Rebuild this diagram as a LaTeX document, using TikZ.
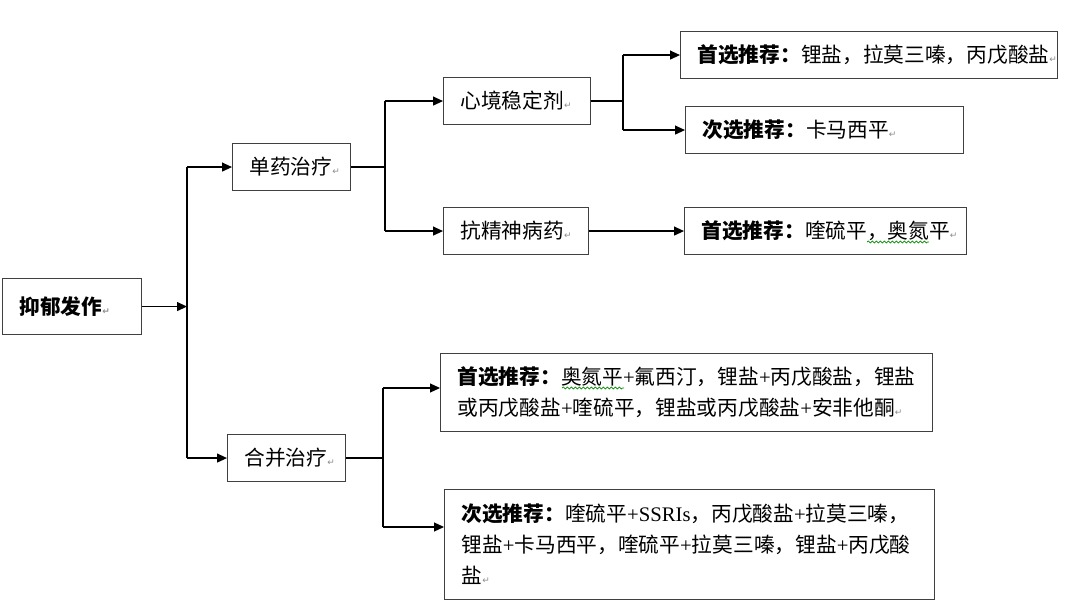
\documentclass[tikz,border=0pt]{standalone}
\usepackage{fontspec}
\setmainfont{Liberation Serif}
\newfontfamily\cjk{Noto Sans CJK SC}
\newfontfamily\dvs{DejaVu Sans}
\usetikzlibrary{arrows.meta,decorations.pathmorphing}
\newcommand{\rt}{{\dvs\fontsize{9}{9}\selectfont\color{black!45}↵}}
\newcommand{\p}{{\rmfamily +}}
\newcommand{\lat}[1]{{\rmfamily #1}}
\tikzset{
  box/.style={draw=black!75, line width=1.1pt, rectangle, anchor=north west,
    inner xsep=17pt, inner ysep=0pt, align=left,
    font=\cjk\fontsize{20.7}{31}\selectfont},
  arr/.style={-{Triangle[length=10pt,width=9pt]}, line width=1.2pt},
  ln/.style={line width=1.2pt},
  wavy/.style={draw=green!55!black, line width=0.7pt, decorate,
    decoration={snake, amplitude=1pt, segment length=4pt}}
}
\begin{document}
\begin{tikzpicture}[x=1pt,y=-1pt]
\useasboundingbox (0,0) rectangle (1065,609);
\node[box, minimum width=139pt, minimum height=56pt, text width=105pt] (a) at (2,278) {\bfseries 抑郁发作\rt};
\node[box, minimum width=118pt, minimum height=47pt, text width=84pt] (b) at (232,143) {单药治疗\rt};
\node[box, minimum width=118pt, minimum height=47pt, text width=84pt] (c) at (227,434) {合并治疗\rt};
\node[box, minimum width=147pt, minimum height=47pt, text width=113pt] (d) at (443,77) {心境稳定剂\rt};
\node[box, minimum width=145pt, minimum height=47pt, text width=111pt] (e) at (443,207) {抗精神病药\rt};
\node[box, minimum width=377pt, minimum height=47pt, text width=343pt] (f) at (680,31) {\textbf{首选推荐：}锂盐，拉莫三嗪，丙戊酸盐\rt};
\node[box, minimum width=278pt, minimum height=47pt, text width=244pt] (g) at (685,106) {\textbf{次选推荐：}卡马西平\rt};
\node[box, minimum width=282pt, minimum height=47pt, text width=248pt] (h) at (684,207) {\textbf{首选推荐：}喹硫平，奥氮平\rt};
\node[box, minimum width=492pt, minimum height=78pt, text width=458pt] (i) at (440,353) {\textbf{首选推荐：}奥氮平\p 氟西汀，锂盐\p 丙戊酸盐，锂盐\\或丙戊酸盐\p 喹硫平，锂盐或丙戊酸盐\p 安非他酮\rt};
\node[box, minimum width=490pt, minimum height=110pt, text width=456pt] (j) at (444,489) {\textbf{次选推荐：}喹硫平\p\lat{SSRIs}，丙戊酸盐\p 拉莫三嗪，\\锂盐\p 卡马西平，喹硫平\p 拉莫三嗪，锂盐\p 丙戊酸\\盐\rt};

% spell-check wavy underlines
\coordinate (w1) at (867,242);
\coordinate (w2) at (929,242);
\coordinate (w3) at (562,388);
\coordinate (w4) at (624,388);
\draw[wavy] (w1) -- (w2);
\draw[wavy] (w3) -- (w4);

\coordinate (s1) at (187,0);
\coordinate (s2) at (385,0);
\coordinate (s3) at (623,0);
\coordinate (p1) at (383,388);
\coordinate (p2) at (383,527);

\draw[arr] (a.east) -- (a.east -| s1);
\draw[ln] (b.west -| s1) -- (c.west -| s1);
\draw[arr] (b.west -| s1) -- (b.west);
\draw[arr] (c.west -| s1) -- (c.west);

\draw[ln] (b.east) -- (b.east -| s2);
\draw[ln] (d.west -| s2) -- (e.west -| s2);
\draw[arr] (d.west -| s2) -- (d.west);
\draw[arr] (e.west -| s2) -- (e.west);

\draw[ln] (d.east) -- (d.east -| s3);
\draw[ln] (f.west -| s3) -- (g.west -| s3);
\draw[arr] (f.west -| s3) -- (f.west);
\draw[arr] (g.west -| s3) -- (g.west);

\draw[arr] (e.east) -- (h.west);

\draw[ln] (c.east) -- (c.east -| p1);
\draw[ln] (p1) -- (p2);
\draw[arr] (p1) -- (p1 -| i.west);
\draw[arr] (p2) -- (p2 -| j.west);
\end{tikzpicture}
\end{document}
